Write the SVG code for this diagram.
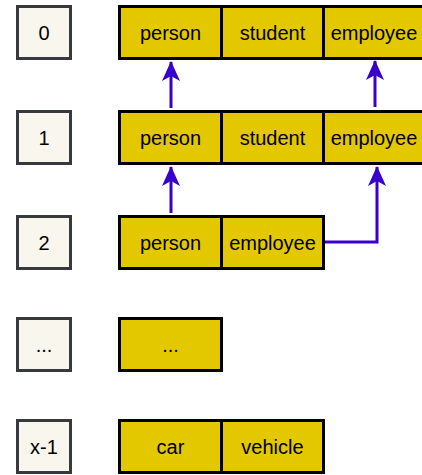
<svg xmlns="http://www.w3.org/2000/svg" width="422" height="475" viewBox="0 0 422 475">
<style>
.idx{fill:#f9f7ed;stroke:#36393d;stroke-width:3}
.cell{fill:#e3c800;stroke:#000;stroke-width:3}
text{font-family:"Liberation Sans",Arial,sans-serif;font-size:20px;fill:#000;text-anchor:middle;dominant-baseline:central}
.conn{fill:none;stroke:#3700cc;stroke-width:3}
</style>
<defs>
<marker id="ah" viewBox="0 0 20 20" refX="19" refY="10" markerWidth="20" markerHeight="20" markerUnits="userSpaceOnUse" orient="auto">
<path d="M0,1 L20,10 L0,19 L5,10 Z" fill="#3700cc"/>
</marker>
</defs>
<g id="idx0"><rect class="idx" x="17.5" y="6.5" width="53" height="52"/><text x="44" y="32.5">0</text></g>
<g id="idx1"><rect class="idx" x="17.5" y="111.5" width="53" height="52"/><text x="44" y="137.5">1</text></g>
<g id="idx2"><rect class="idx" x="17.5" y="216.5" width="53" height="52"/><text x="44" y="242.5">2</text></g>
<g id="idxdots"><rect class="idx" x="17.5" y="318.5" width="53" height="52"/><text x="44" y="344.5">...</text></g>
<g id="idxx1"><rect class="idx" x="17.5" y="420.5" width="53" height="52"/><text x="44" y="446.5">x-1</text></g>

<g id="row0">
<rect class="cell" x="119.5" y="6.5" width="102" height="52"/><text x="170.5" y="32.5">person</text>
<rect class="cell" x="221.5" y="6.5" width="102" height="52"/><text x="272.5" y="32.5">student</text>
<rect class="cell" x="323.5" y="6.5" width="102" height="52"/><text x="374" y="32.5">employee</text>
</g>
<g id="row1">
<rect class="cell" x="119.5" y="111.5" width="102" height="52"/><text x="170.5" y="137.5">person</text>
<rect class="cell" x="221.5" y="111.5" width="102" height="52"/><text x="272.5" y="137.5">student</text>
<rect class="cell" x="323.5" y="111.5" width="102" height="52"/><text x="374" y="137.5">employee</text>
</g>
<g id="row2">
<rect class="cell" x="119.5" y="216.5" width="102" height="52"/><text x="170.5" y="242.5">person</text>
<rect class="cell" x="221.5" y="216.5" width="102" height="52"/><text x="272.5" y="242.5">employee</text>
</g>
<g id="rowdots">
<rect class="cell" x="119.5" y="318.5" width="102" height="52"/><text x="170.5" y="344.5">...</text>
</g>
<g id="rowx1">
<rect class="cell" x="119.5" y="420.5" width="102" height="52"/><text x="170.5" y="446.5">car</text>
<rect class="cell" x="221.5" y="420.5" width="102" height="52"/><text x="272.5" y="446.5">vehicle</text>
</g>

<g id="connectors">
<path class="conn" d="M171,108 L171,62" marker-end="url(#ah)"/>
<path class="conn" d="M375,107 L375,61" marker-end="url(#ah)"/>
<path class="conn" d="M171,213 L171,167" marker-end="url(#ah)"/>
<path class="conn" d="M325,242 L377,242 L377,167" marker-end="url(#ah)"/>
</g>
</svg>
